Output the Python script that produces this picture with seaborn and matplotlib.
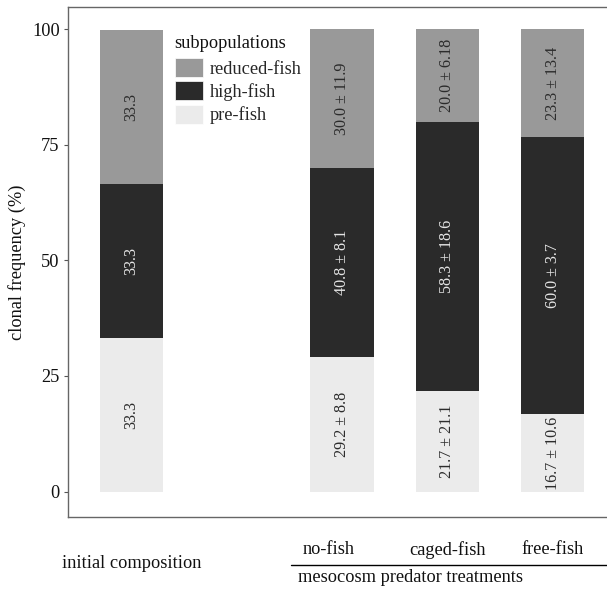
import numpy as np
import pandas as pd
import matplotlib
matplotlib.use("Agg")
import matplotlib.pyplot as plt
import matplotlib.transforms as mtransforms
from matplotlib.patches import Patch
import seaborn as sns

# --- data ---
slots = ["initial composition", "gap", "no-fish", "caged-fish", "free-fish"]
treatments = ["initial composition", "no-fish", "caged-fish", "free-fish"]
pre_fish = [33.3, 29.2, 21.7, 16.7]
high_fish = [33.3, 40.8, 58.3, 60.0]
reduced_fish = [33.3, 30.0, 20.0, 23.3]
pre_sd = [None, 8.8, 21.1, 10.6]
high_sd = [None, 8.1, 18.6, 3.7]
reduced_sd = [None, 11.9, 6.18, 13.4]
subpops = ["reduced-fish", "high-fish", "pre-fish"]

colors = {"reduced-fish": "#999999", "high-fish": "#2a2a2a", "pre-fish": "#ebebeb"}
text_colors = {"reduced-fish": "#2b2b2b", "high-fish": "#e6e6e6", "pre-fish": "#2b2b2b"}

FS = 13.2

sns.set_style("white")
plt.rcParams["font.family"] = ["Liberation Serif", "DejaVu Serif"]
plt.rcParams["font.size"] = FS

df = pd.DataFrame({
    "treatment": treatments,
    "pre-fish": pre_fish,
    "high-fish": high_fish,
    "reduced-fish": reduced_fish,
})
df["top_pre"] = df["pre-fish"]
df["top_high"] = df["pre-fish"] + df["high-fish"]
df["top_reduced"] = df["top_high"] + df["reduced-fish"]

W, H = 607, 591
fig = plt.figure(figsize=(W / 100, H / 100), dpi=100)
ax = fig.add_axes([68 / W, 1 - 517 / H, (616 - 68) / W, (517 - 7) / H])

# stacked bars: draw cumulative totals, widest stack first
for col, sub in [("top_reduced", "reduced-fish"), ("top_high", "high-fish"), ("top_pre", "pre-fish")]:
    sns.barplot(data=df, x="treatment", y=col, order=slots, color=colors[sub],
                width=0.6, saturation=1, errorbar=None, linewidth=0, ax=ax)

# segment labels
pos = {t: slots.index(t) for t in treatments}
for i, t in enumerate(treatments):
    segs = [("pre-fish", pre_fish[i], pre_sd[i], 0),
            ("high-fish", high_fish[i], high_sd[i], pre_fish[i]),
            ("reduced-fish", reduced_fish[i], reduced_sd[i], pre_fish[i] + high_fish[i])]
    for sub, val, sd, base in segs:
        lab = f"{val:.1f}" if sd is None else f"{val:.1f} ± {sd}"
        ax.text(pos[t], base + val / 2, lab, rotation=90, ha="center", va="center",
                color=text_colors[sub], fontsize=11.6)

ax.set_xlim(-0.6, 4.6)
ax.set_ylim(-5.5, 104.8)
ax.set_yticks([0, 25, 50, 75, 100])
ax.set_xticks([])
ax.set_xlabel("")
ax.set_ylabel("clonal frequency (%)", fontsize=FS, color="#111111")
ax.yaxis.set_label_coords(-(68 - 26) / (616 - 68), 0.5)
ax.tick_params(axis="y", length=3, width=0.8, color="#555555", labelsize=FS,
               labelcolor="#111111", pad=3, left=True)
for side in ["top", "left", "bottom", "right"]:
    ax.spines[side].set_color("#666666")
    ax.spines[side].set_linewidth(1)

# legend (title drawn separately so the gap matches)
fig.text(174 / W, 1 - 43 / H, "subpopulations", ha="left", va="center",
         fontsize=FS, color="#111111")
handles = [Patch(facecolor=colors[s], edgecolor="white", linewidth=0.5) for s in subpops]
leg = ax.legend(handles, subpops, loc="upper left",
                bbox_to_anchor=(175 / W, 1 - 58 / H), bbox_transform=fig.transFigure,
                frameon=False, fontsize=FS, handlelength=1.5,
                handleheight=1.22, handletextpad=0.38, labelspacing=0.2,
                borderpad=0, borderaxespad=0)

# category labels beneath the axis
trans = mtransforms.blended_transform_factory(ax.transData, fig.transFigure)
label_shift = {"no-fish": -0.13, "caged-fish": 0.0, "free-fish": 0.0}
for t in treatments[1:]:
    ax.text(pos[t] + label_shift[t], 1 - 550 / H, t, transform=trans, ha="center",
            va="center", fontsize=FS, color="#111111")
fig.text(132 / W, 1 - 563 / H, "initial composition", ha="center", va="center",
         fontsize=FS, color="#111111")
fig.add_artist(plt.Line2D([291 / W, 1.0], [1 - 565 / H, 1 - 565 / H], color="black", lw=1))
fig.text(298 / W, 1 - 578 / H, "mesocosm predator treatments", ha="left", va="center",
         fontsize=FS, color="#111111")

fig.savefig("out.png", dpi=100)
